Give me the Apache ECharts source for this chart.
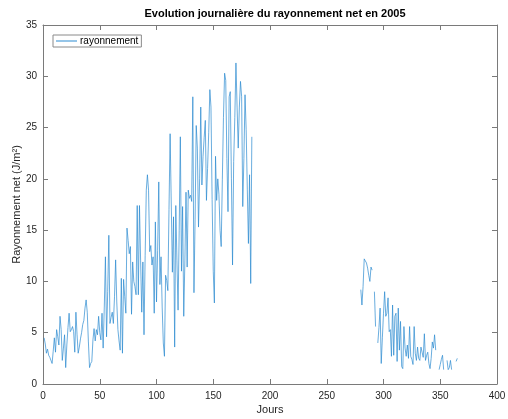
<!DOCTYPE html>
<html>
<head>
<meta charset="utf-8">
<script src="https://cdn.jsdelivr.net/npm/echarts@6/dist/echarts.min.js"></script>
<style>
  html, body { margin: 0; padding: 0; background: #fff; }
  #chart { width: 508px; height: 419px; }
</style>
</head>
<body>
<div id="chart"></div>
<script>
// Net radiation per day, 2005 (J/m²). Days without a measurement are null.
const springStartDay = 1;
const springValues = [
  4.5, 3.9, 3.0, 3.4, 2.8, 2.6, 2.5, 2.0, 3.2, 4.5,
  3.1, 5.3, 4.6, 3.8, 6.6, 5.3, 2.3, 3.5, 4.8, 1.6,
  3.8, 5.5, 6.9, 5.1, 5.3, 5.6, 5.1, 3.1, 7.0, 4.8,
  3.0, 3.6, 4.4, 5.0, 5.8, 6.2, 7.4, 8.2, 7.0, 4.1,
  1.6, 2.0, 2.2, 4.3, 5.4, 4.2, 5.3, 4.8, 6.6, 5.0,
  4.3, 6.9, 3.5, 7.5, 12.4, 4.6, 9.0, 14.5, 5.9, 6.5,
  7.0, 5.9, 8.5, 12.1, 8.0, 5.3, 4.2, 3.3, 10.3, 3.0,
  10.2, 8.5, 6.9, 15.2, 14.0, 12.7, 13.4, 6.8, 11.9, 10.0,
  9.5, 8.7, 17.4, 8.7, 17.4, 12.0, 7.0, 11.9, 4.8, 12.5,
  18.9, 20.4, 18.9, 12.9, 13.5, 11.6, 12.4, 6.9, 15.8, 8.0,
  13.0, 19.7, 9.7, 12.4, 7.5, 4.0, 2.7, 10.6, 10.1, 9.1,
  17.0, 24.4, 24.4, 10.9, 16.3, 3.6, 17.4, 12.0, 7.2, 15.0,
  24.1, 11.0, 17.3, 6.6, 12.0, 18.7, 11.4, 18.9, 18.1, 18.4,
  17.8, 28.0, 8.9, 16.0, 25.2, 23.0, 15.3, 20.0, 27.0, 19.4,
  22.2, 24.0, 25.7, 17.9, 21.0, 24.5, 28.7, 27.0, 18.0, 11.0,
  7.9, 22.2, 17.9, 20.0, 18.5, 15.0, 13.4, 19.9, 26.0, 30.3,
  29.6, 22.0, 16.8, 28.0, 28.5, 20.0, 11.6, 21.7, 26.0, 31.3,
  27.0, 23.0, 27.0, 29.5, 28.0, 17.3, 22.0, 28.2, 24.8, 19.0,
  13.7, 20.4, 9.8, 24.1
];
const autumnStartDay = 280;
const autumnValues = [
  9.2, 7.7, 9.5, 12.2, 12.0, 11.8, 11.3, 10.6, 10.0, 11.4,
  11.1, null, 9.0, 5.6, null, 4.0, 5.5, 7.4, 2.0, 4.5,
  6.9, 9.0, 6.6, 6.9, 8.4, 5.1, 5.3, 2.7, 7.7, 2.8,
  6.6, 6.9, 2.2, 7.4, 3.3, 6.1, 1.7, 1.5, 5.6, 3.5,
  2.7, 3.8, 2.5, 5.6, 2.7, 2.4, 1.9, 5.6, 3.0, 2.3,
  3.6, 2.5, 2.3, 3.6, 3.1, 2.6, 4.9, 2.3, 2.8, 3.1,
  2.0, 1.5, 2.5, 4.1, 3.5, 4.8, 3.3, null, null, 1.4,
  1.9, 2.4, 2.8, 1.4, null, null, 2.3, 1.4, 1.6, 2.3,
  1.4, null, null, null, 2.2, 2.5
];
const xTicks = { min: 0, max: 400, step: 50 };
const yTicks = { min: 0, max: 35, step: 5 };

// Build [day, value] pairs; a null between the two periods breaks the line.
const seriesData = [];
springValues.forEach((v, i) => seriesData.push([springStartDay + i, v]));
seriesData.push([springStartDay + springValues.length, null]);
autumnValues.forEach((v, i) => seriesData.push([autumnStartDay + i, v]));

const axisGray = '#7a7a7a';
const textGray = '#262626';
const lineBlue = '#2a8ad0';
const font = 'Liberation Sans, Arial, Helvetica, sans-serif';

// Shared styling for the four sides of the axes box (ticks point inward).
const frameAxis = (extra) => Object.assign({
  type: 'value',
  axisLine: { show: true, onZero: false, lineStyle: { color: axisGray, width: 1 } },
  axisTick: { show: true, inside: true, length: 5, lineStyle: { color: axisGray, width: 1 } },
  splitLine: { show: false },
  axisLabel: { show: false }
}, extra);

const chart = echarts.init(document.getElementById('chart'), null, { renderer: 'canvas' });
chart.setOption({
  animation: false,
  backgroundColor: '#ffffff',
  title: {
    text: 'Evolution journalière du rayonnement net en 2005',
    left: 270, top: 3, textAlign: 'center',
    textStyle: { fontFamily: font, fontSize: 11, fontWeight: 'bold', color: '#000' }
  },
  legend: {
    left: 53, top: 35,
    padding: [1, 3, 1, 3],
    icon: 'rect',
    itemWidth: 21, itemHeight: 1, itemGap: 4,
    borderColor: '#8a8a8a', borderWidth: 1,
    backgroundColor: '#fff',
    textStyle: { fontFamily: font, fontSize: 10, color: '#000', padding: [0, 0, 0, -2] },
    data: ['rayonnement']
  },
  grid: {
    left: 43, right: 11, top: 25, bottom: 35,
    containLabel: false, outerBoundsMode: 'none'
  },
  xAxis: [
    frameAxis({
      position: 'bottom',
      min: xTicks.min, max: xTicks.max, interval: xTicks.step,
      name: 'Jours', nameLocation: 'middle', nameGap: 20, nameMoveOverlap: false,
      nameTextStyle: { fontFamily: font, fontSize: 11, color: textGray },
      axisLabel: { show: true, fontFamily: font, fontSize: 10, color: textGray, margin: 7 }
    }),
    frameAxis({ position: 'top', min: xTicks.min, max: xTicks.max, interval: xTicks.step })
  ],
  yAxis: [
    frameAxis({
      position: 'left',
      min: yTicks.min, max: yTicks.max, interval: yTicks.step,
      name: 'Rayonnement net (J/m²)', nameLocation: 'middle', nameGap: 21, nameMoveOverlap: false,
      nameTextStyle: { fontFamily: font, fontSize: 11, color: textGray },
      axisLabel: { show: true, fontFamily: font, fontSize: 10, color: textGray, margin: 6 }
    }),
    frameAxis({ position: 'right', min: yTicks.min, max: yTicks.max, interval: yTicks.step })
  ],
  series: [{
    name: 'rayonnement',
    type: 'line',
    xAxisIndex: 0, yAxisIndex: 0,
    data: seriesData,
    showSymbol: false,
    symbol: 'none',
    connectNulls: false,
    lineStyle: { color: lineBlue, width: 0.7 },
    itemStyle: { color: lineBlue }
  }]
});
</script>
</body>
</html>
